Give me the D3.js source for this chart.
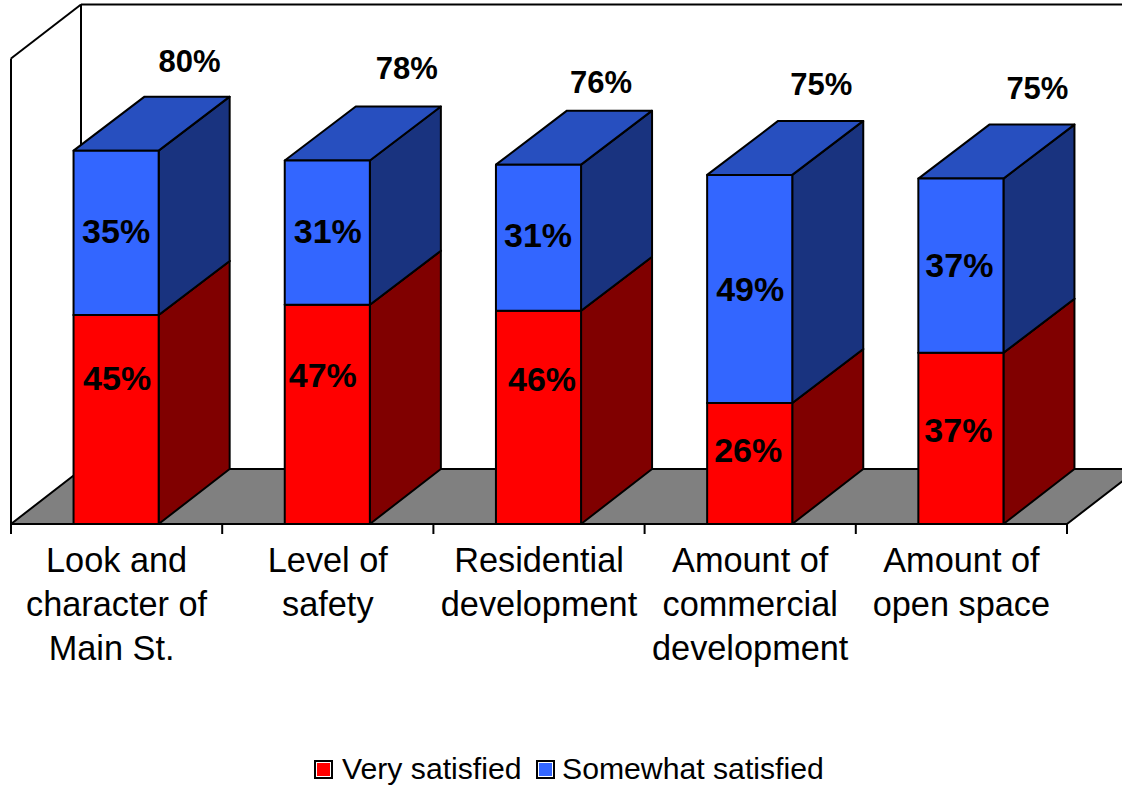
<!DOCTYPE html>
<html lang="en">
	<head>
		<meta charset="utf-8">
		<title>satisfaction</title>
		<script src="https://d3js.org/d3.v7.min.js"></script>
		<style type="text/css">

		html, body {
				margin: 0;
				padding: 0;
				background: white;
				overflow: hidden;
		}

		text {
				font-family: "Liberation Sans", Arial, sans-serif;
				fill: black;
		}

		.axis-label {
				font-size: 34.3px;
		}

		.value-label {
				font-size: 34px;
				font-weight: bold;
		}

		.total-label {
				font-size: 31px;
				font-weight: bold;
		}

		.legend-label {
				font-size: 30.2px;
		}

		</style>
	</head>
	<body>
		<script type="text/javascript">

					//Data
					var categories = [
							["Look and", "character of", "Main St."],
							["Level of", "safety"],
							["Residential", "development"],
							["Amount of", "commercial", "development"],
							["Amount of", "open space"]
					];
					var verySatisfied = [44.9, 47.1, 45.8, 26, 36.8];
					var somewhatSatisfied = [35.3, 31, 31.4, 49, 37.4];
					var veryLabels = ["45%", "47%", "46%", "26%", "37%"];
					var somewhatLabels = ["35%", "31%", "31%", "49%", "37%"];
					var totalLabels = ["80%", "78%", "76%", "75%", "75%"];
					var legendNames = ["Very satisfied", "Somewhat satisfied"];

					//Width and height
					var w = 1122;
					var h = 785;
					var depthX = 71; //3d offset of the back of the chart
					var depthY = -54;
					var floorDepthY = -55;

					//Hand placed labels, offset from the default spot
					var veryNudge = [[0.5, -41], [-5, -39], [3, -38], [-2, -13], [-3, -8]];
					var somewhatNudge = [[-0.5, -2], [0, -2], [-1, -3], [0, 0], [-2, -1]];
					var totalNudge = [[2, 0], [8, -3], [-9, 7], [0, -1], [5, -1]];
					var mainStNudge = -5; //last line of the first label sits left of centre

					var xScale = d3.scaleBand()
					.domain(d3.range(categories.length))
					.range([11, 1067]);

					var barWidth = xScale.bandwidth() * 0.403;

					var yScale = d3.scaleLinear()
					.domain([0, 100])
					.range([524, 58.5]);

					//Create SVG element
					var svg = d3.select("body")
					.append("svg")
					.attr("width", w)
					.attr("height", h)
					.style("display", "block");

					function poly(points, fill) {
							return svg.append("polygon")
							.attr("points", points.map(function(p) { return p.join(","); }).join(" "))
							.attr("fill", fill)
							.attr("stroke", "black")
							.attr("stroke-width", 2)
							.attr("stroke-linejoin", "round");
					}

					function line(x1, y1, x2, y2) {
							return svg.append("line")
							.attr("x1", x1).attr("y1", y1)
							.attr("x2", x2).attr("y2", y2)
							.attr("stroke", "black")
							.attr("stroke-width", 2);
					}

					var x0 = xScale.range()[0];
					var x1 = xScale.range()[1];
					var y0 = yScale(0);
					var yTop = yScale(100);

					//Walls
					line(x0, y0, x0, yTop);
					line(x0, yTop, x0 + depthX - 1, yTop + depthY);
					line(x0 + depthX - 1, yTop + depthY, x0 + depthX - 1, y0 + floorDepthY);
					line(x0 + depthX - 1, yTop + depthY, w + 5, yTop + depthY);

					//Floor
					poly([[x0, y0], [x1, y0], [x1 + depthX, y0 + floorDepthY], [x0 + depthX, y0 + floorDepthY]], "#808080");

					//One 3d box for a stacked segment
					function box(left, yLow, yHigh, front, side, top) {
							var right = left + barWidth;
							var backLow = yLow + (yLow === y0 ? floorDepthY : depthY);
							poly([[right, yLow], [right + depthX, backLow], [right + depthX, yHigh + depthY], [right, yHigh]], side);
							poly([[left, yHigh], [left + depthX, yHigh + depthY], [right + depthX, yHigh + depthY], [right, yHigh]], top);
							poly([[left, yLow], [right, yLow], [right, yHigh], [left, yHigh]], front);
					}

					categories.forEach(function(c, i) {
							var left = xScale(i) + (xScale.bandwidth() - barWidth) / 2 - 0.5;
							var v = verySatisfied[i];
							var s = somewhatSatisfied[i];
							box(left, yScale(0), yScale(v), "#ff0000", "#800000", "#800000");
							box(left, yScale(v), yScale(v + s), "#3366ff", "#19337f", "#274fbf");
					});

					//Axis line and ticks
					line(x0, y0, x1, y0);
					d3.range(categories.length + 1).forEach(function(i) {
							var tx = i < categories.length ? xScale(i) : x1;
							line(tx, y0, tx, y0 + 10);
					});

					//Category labels
					categories.forEach(function(c, i) {
							var cx = xScale(i) + xScale.bandwidth() / 2;
							var label = svg.append("text")
							.attr("class", "axis-label")
							.attr("text-anchor", "middle");
							c.forEach(function(part, j) {
									label.append("tspan")
									.attr("x", cx + (i === 0 && j === 2 ? mainStNudge : 0))
									.attr("y", 572 + j * 44)
									.text(part);
							});
					});

					//Value labels
					function valueLabel(x, y, str, cls) {
							svg.append("text")
							.attr("class", cls)
							.attr("text-anchor", "middle")
							.attr("dominant-baseline", "central")
							.attr("x", x)
							.attr("y", y)
							.text(str);
					}

					categories.forEach(function(c, i) {
							var cx = xScale(i) + xScale.bandwidth() / 2;
							var v = verySatisfied[i];
							var s = somewhatSatisfied[i];
							valueLabel(cx + veryNudge[i][0], yScale(v / 2) + veryNudge[i][1], veryLabels[i], "value-label");
							valueLabel(cx + somewhatNudge[i][0], yScale(v + s / 2) + somewhatNudge[i][1], somewhatLabels[i], "value-label");
							valueLabel(cx + depthX + totalNudge[i][0], yScale(v + s) + depthY - 35 + totalNudge[i][1], totalLabels[i], "total-label");
					});

					//Legend
					var legendColors = ["#ff0000", "#3366ff"];
					var legendX = [315, 537];
					var legendTextX = [342, 562];
					legendNames.forEach(function(name, i) {
							svg.append("rect")
							.attr("x", legendX[i])
							.attr("y", 761)
							.attr("width", 17)
							.attr("height", 17)
							.attr("fill", "white")
							.attr("stroke", "black")
							.attr("stroke-width", 2);
							svg.append("rect")
							.attr("x", legendX[i] + 2)
							.attr("y", 763)
							.attr("width", 13)
							.attr("height", 13)
							.attr("fill", legendColors[i]);
							svg.append("text")
							.attr("class", "legend-label")
							.attr("x", legendTextX[i])
							.attr("y", 779)
							.text(name);
					});

		</script>
	</body>
</html>
